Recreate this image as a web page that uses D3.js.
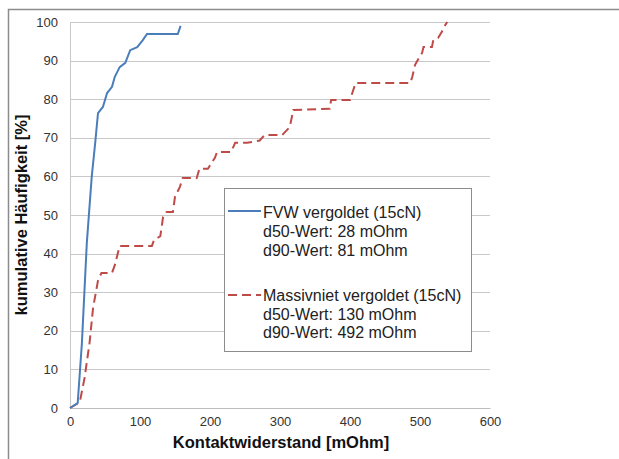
<!DOCTYPE html>
<html><head><meta charset="utf-8">
<script src="https://cdn.jsdelivr.net/npm/d3@7"></script>
<style>body{margin:0;background:#fff}svg{display:block}text{font-family:"Liberation Sans",Arial,sans-serif}</style>
</head><body><svg id="c" width="619" height="459"></svg>
<script>
const xTicks=[0,100,200,300,400,500,600];
const yTicks=[0,10,20,30,40,50,60,70,80,90,100];
const fvw=[[0,0],[11,1.3],[17,16.8],[24,42.7],[31,59.8],[36,68.7],[40,76.4],[47,78],[53,81.6],[60,83.2],[64,85.8],[71,88.3],[79,89.4],[86,92.7],[96,93.5],[104,95.3],[110,96.9],[154,96.9],[158,99]];
const massiv=[[0,0],[14,1.5],[21,8],[28,17],[33,26],[40,33],[45,35],[60,35],[64,37],[71,42],[74,42],[117,42],[120,43.5],[129,44.5],[133,49.5],[138,50.8],[147,50.8],[150,54.7],[157,57.3],[161,59.6],[181,59.6],[185,62],[197,62],[207,64.8],[210,66.3],[230,66.3],[236,68.7],[253,68.7],[271,69.3],[278,70.7],[303,70.7],[314,72.8],[319,77.2],[371,77.5],[373,79.8],[400,79.8],[404,82],[408,84.2],[486,84.2],[489,85.8],[493,88.9],[497,90.2],[503,92],[505,93.5],[517,93.5],[519,95.3],[526,95.9],[531,97.4],[536,99.2],[539,100]];
const legendFVW=["FVW vergoldet (15cN)","d50-Wert: 28 mOhm","d90-Wert: 81 mOhm"];
const legendMassiv=["Massivniet vergoldet (15cN)","d50-Wert: 130 mOhm","d90-Wert: 492 mOhm"];
const xTitle="Kontaktwiderstand [mOhm]";
const yTitle="kumulative Häufigkeit [%]";

const svg=d3.select("#c");
const x=d3.scaleLinear().domain([0,600]).range([70,490]);
const y=d3.scaleLinear().domain([0,100]).range([408,22]);

svg.append("rect").attr("x",8.5).attr("y",9.5).attr("width",640).attr("height",480)
  .attr("fill","#fff").attr("stroke","#8c8c8c").attr("stroke-width",1.5);

// gridlines
svg.append("g").selectAll("line").data(yTicks.filter(d=>d>0)).join("line")
  .attr("x1",x(0)).attr("x2",x(600)).attr("y1",d=>Math.round(y(d))+0.5).attr("y2",d=>Math.round(y(d))+0.5)
  .attr("stroke","#c8c8c8").attr("stroke-width",1);

// axes
const yAxis=d3.axisLeft(y).tickValues(yTicks).tickSize(0).tickPadding(12);
const gy=svg.append("g").attr("transform",`translate(${x(0)},0)`).call(yAxis);
gy.select(".domain").attr("stroke","#c8c8c8");
gy.selectAll("text").attr("font-size",13).attr("fill","#333");
const xAxis=d3.axisBottom(x).tickValues(xTicks).tickSize(0).tickPadding(9);
const gx=svg.append("g").attr("transform",`translate(0,${y(0)})`).call(xAxis);
gx.select(".domain").attr("stroke","#bdbdbd");
gx.selectAll("text").attr("font-size",13).attr("fill","#333");

const line=d3.line().x(d=>x(d[0])).y(d=>y(d[1]));
svg.append("path").datum(massiv).attr("d",line).attr("fill","none")
  .attr("stroke","#be4b48").attr("stroke-width",2).attr("stroke-dasharray","9,5");
svg.append("path").datum(fvw).attr("d",line).attr("fill","none")
  .attr("stroke","#4a7ebb").attr("stroke-width",2);

// titles
svg.append("text").attr("x",281).attr("y",448).attr("text-anchor","middle")
  .attr("font-size",16.5).attr("font-weight","bold").attr("fill","#111").text(xTitle);
svg.append("text").attr("transform","translate(27,215) rotate(-90)").attr("text-anchor","middle")
  .attr("font-size",16.5).attr("font-weight","bold").attr("fill","#111").text(yTitle);

// legend
const lg=svg.append("g");
lg.append("rect").attr("x",224.5).attr("y",188.5).attr("width",247).attr("height",163)
  .attr("fill","#fff").attr("stroke","#8c8c8c").attr("stroke-width",1);
lg.append("line").attr("x1",228).attr("x2",261).attr("y1",211).attr("y2",211)
  .attr("stroke","#4a7ebb").attr("stroke-width",2);
lg.append("line").attr("x1",228).attr("x2",261).attr("y1",295).attr("y2",295)
  .attr("stroke","#be4b48").attr("stroke-width",2).attr("stroke-dasharray","9,5");
lg.selectAll("text.a").data(legendFVW).join("text").attr("class","a")
  .attr("x",263).attr("y",(d,i)=>217.5+i*19).attr("font-size",16).attr("fill","#222").text(d=>d);
lg.selectAll("text.b").data(legendMassiv).join("text").attr("class","b")
  .attr("x",263).attr("y",(d,i)=>301+i*18.5).attr("font-size",16).attr("fill","#222").text(d=>d);
</script></body></html>
